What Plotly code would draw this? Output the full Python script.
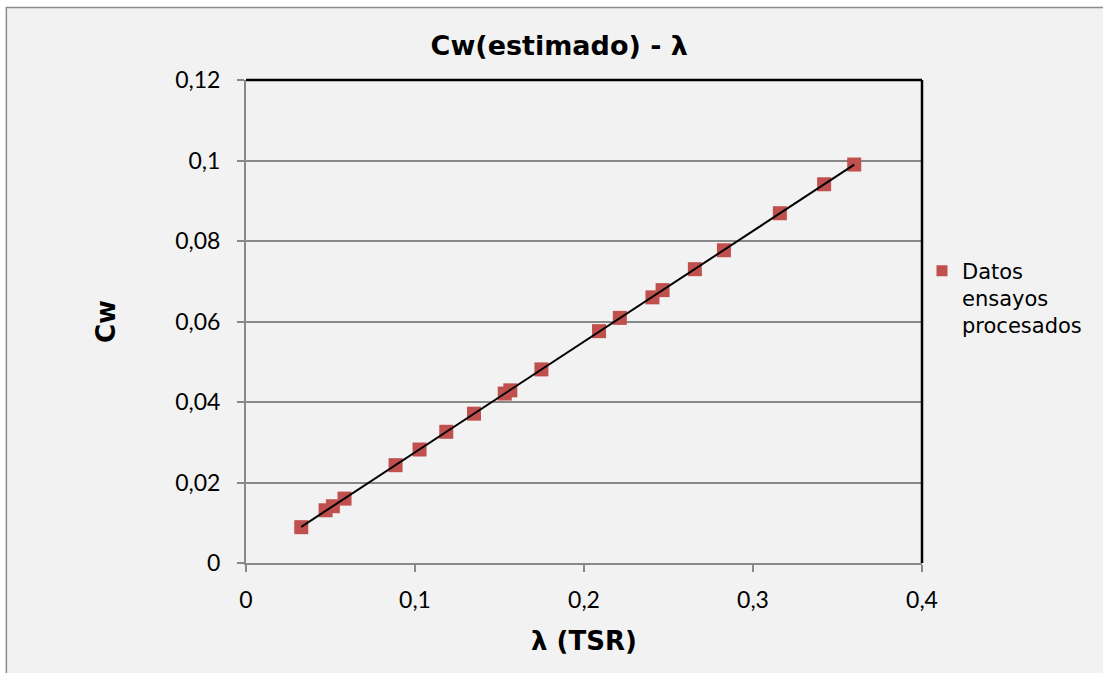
import numpy as np
import plotly.graph_objects as go

# Tip speed ratio and estimated Cw from the processed test runs
tsr = [0.0327, 0.0471, 0.0514, 0.0583, 0.0885, 0.1027, 0.1185, 0.1349,
       0.1531, 0.1564, 0.1748, 0.2089, 0.2212, 0.2405, 0.2465, 0.2656,
       0.2828, 0.3159, 0.3421, 0.3599]
cw = [0.0089, 0.0131, 0.0141, 0.0160, 0.0243, 0.0282, 0.0326, 0.0371,
      0.0421, 0.0429, 0.0481, 0.0576, 0.0609, 0.0660, 0.0678, 0.0730,
      0.0777, 0.0869, 0.0941, 0.0990]

x_ticks = [0, 0.1, 0.2, 0.3, 0.4]
x_labels = ["0", "0,1", "0,2", "0,3", "0,4"]
y_ticks = [0, 0.02, 0.04, 0.06, 0.08, 0.10, 0.12]
y_labels = ["0", "0,02", "0,04", "0,06", "0,08", "0,1", "0,12"]

RED = "#c0504d"
GRID = "#888888"

# linear trend line through the data
slope, intercept = np.polyfit(tsr, cw, 1)
x_fit = np.array([min(tsr), max(tsr)])
y_fit = slope * x_fit + intercept

fig = go.Figure()
fig.add_trace(go.Scatter(
    x=tsr, y=cw, mode="markers", showlegend=False,
    marker=dict(symbol="square", size=14, color=RED, line=dict(width=0)),
))
fig.add_trace(go.Scatter(
    x=x_fit, y=y_fit, mode="lines", showlegend=False,
    line=dict(color="black", width=2),
))
# legend entry
fig.add_trace(go.Scatter(
    x=[None], y=[None], mode="markers", name="Datos<br>ensayos<br>procesados",
    marker=dict(symbol="square", size=11, color=RED),
))

axis_common = dict(
    showline=True, linecolor=GRID, linewidth=2,
    zeroline=False,
    ticks="outside", ticklen=7, tickwidth=1.5, tickcolor=GRID,
    tickfont=dict(family="Lato", size=23, color="black"),
)

fig.update_xaxes(
    range=[0, 0.4], tickvals=x_ticks, ticktext=x_labels,
    showgrid=False, ticklabelstandoff=8,
    title=dict(text="<b>λ (TSR)</b>", standoff=20,
               font=dict(family="DejaVu Sans", size=26, color="black")),
    **axis_common,
)
fig.update_yaxes(
    range=[0, 0.12], tickvals=y_ticks, ticktext=y_labels,
    showgrid=True, gridcolor=GRID, gridwidth=1.5,
    ticklabelstandoff=12,
    title=dict(text="<b>Cw</b>", standoff=52,
               font=dict(family="DejaVu Sans", size=26, color="black")),
    **axis_common,
)

shapes = [
    # chart frame
    dict(type="rect", xref="paper", yref="paper", layer="below",
         x0=-0.3545, x1=1.28, y0=-0.25, y1=1.150,
         fillcolor="#f2f2f2", line=dict(color="#8c8c8c", width=1.5)),
    # plot area border (top and right)
    dict(type="line", xref="paper", yref="paper", x0=0, x1=1, y0=1, y1=1,
         line=dict(color="black", width=2.5)),
    dict(type="line", xref="paper", yref="paper", x0=1, x1=1, y0=0, y1=1,
         line=dict(color="black", width=2.5)),
]

fig.update_layout(
    width=1103, height=673,
    margin=dict(l=246, r=181, t=80, b=110, autoexpand=False),
    paper_bgcolor="white", plot_bgcolor="white",
    title=dict(text="<b>Cw(estimado) - λ</b>", x=0.507, xanchor="center",
               y=0.933, yanchor="middle", yref="container",
               font=dict(family="DejaVu Sans", size=27, color="black")),
    legend=dict(x=1.0, xanchor="left", y=0.647, yanchor="top",
                valign="top", bgcolor="rgba(0,0,0,0)",
                font=dict(family="DejaVu Sans", size=21, color="black"),
                itemwidth=30, tracegroupgap=0),
    shapes=shapes,
)

fig.write_html("out.html")
